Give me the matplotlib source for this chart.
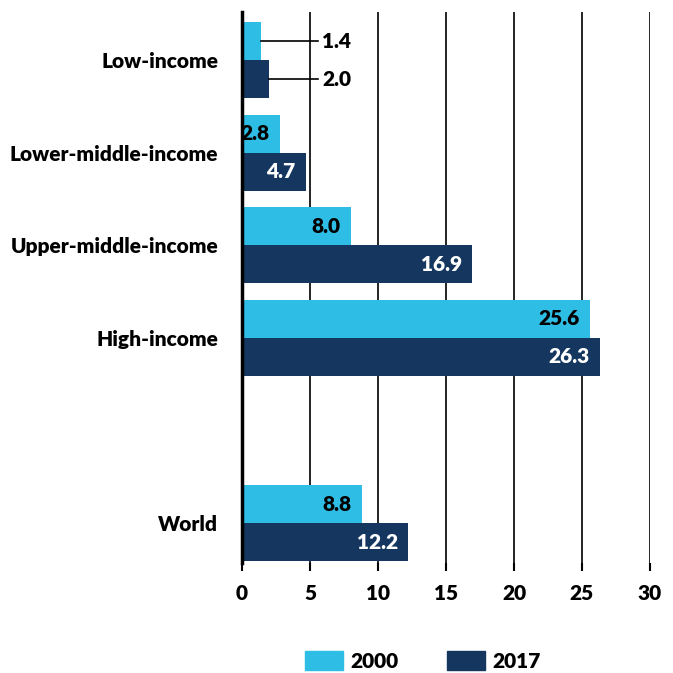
import matplotlib
matplotlib.use("Agg")
import matplotlib.pyplot as plt
from matplotlib.patches import Patch
import numpy as np

categories = ["Low-income", "Lower-middle-income", "Upper-middle-income", "High-income", "World"]
values_2000 = [1.4, 2.8, 8.0, 25.6, 8.8]
values_2017 = [2.0, 4.7, 16.9, 26.3, 12.2]
series_names = ["2000", "2017"]
xticks = [0, 5, 10, 15, 20, 25, 30]

c2000 = "#2EBDE5"
c2017 = "#14365F"

plt.rcParams['font.family'] = ['Lato', 'DejaVu Sans']
W = 'heavy'
plt.rcParams['font.weight'] = W
FS = 15

fig = plt.figure(figsize=(6.73, 6.73), dpi=100)
ax = fig.add_axes([242/673, 1-563/673, (650-242)/673, (563-12)/673])

pos = np.array([0, 1, 2, 3, 5], dtype=float)
h = 0.41
ax.barh(pos - h/2, values_2000, height=h, color=c2000, zorder=3)
ax.barh(pos + h/2, values_2017, height=h, color=c2017, zorder=3)

ax.set_xlim(0, 30)
ax.set_ylim(5.43, -0.52)
ax.set_xticks(xticks)
ax.set_xticklabels([str(t) for t in xticks], fontsize=FS, fontweight=W)
ax.tick_params(axis='x', length=6, width=1.5, pad=9, color='black')
ax.set_yticks(pos)
ax.set_yticklabels(categories, fontsize=FS, fontweight=W)
ax.tick_params(axis='y', length=0, pad=17)
for s in ['top', 'right', 'bottom']:
    ax.spines[s].set_visible(False)
ax.spines['left'].set_linewidth(2.5)
ax.spines['left'].set_zorder(5)
for t in xticks[1:]:
    ax.axvline(t, color='black', lw=1.2, zorder=1)

for i, p in enumerate(pos):
    for v, yoff, tc in [(values_2000[i], -h/2, 'black'), (values_2017[i], h/2, 'white')]:
        if i == 0:
            ax.plot([v, 5.6], [p + yoff, p + yoff], color='black', lw=1.2, zorder=4)
            ax.text(5.9, p + yoff, f"{v:.1f}", ha='left', va='center', fontsize=FS,
                    fontweight=W, color='black', zorder=6)
        else:
            ax.text(v - 0.75, p + yoff, f"{v:.1f}", ha='right', va='center', fontsize=FS,
                    fontweight=W, color=tc, zorder=6)

handles = [Patch(color=c2000, label=series_names[0]), Patch(color=c2017, label=series_names[1])]
fig.legend(handles=handles, loc='center', bbox_to_anchor=(0.628, 1-661/673), ncol=2,
           frameon=False, prop={'family': ['Lato', 'DejaVu Sans'], 'weight': W, 'size': FS},
           handlelength=1.83, handleheight=1.0, columnspacing=2.35, handletextpad=0.34)

fig.savefig("out.png", dpi=100)
